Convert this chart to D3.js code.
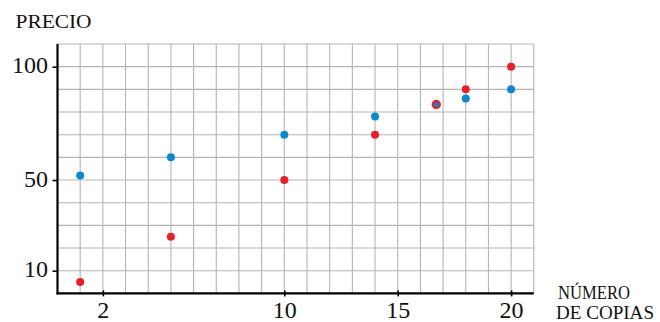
<!DOCTYPE html>
<html>
<head>
<meta charset="utf-8">
<script src="https://cdn.jsdelivr.net/npm/d3@7"></script>
<style>
  body { margin: 0; background: #fff; }
</style>
</head>
<body>
<div id="chart"></div>
<script>
// Data
const copies = [1, 5, 10, 14, 18, 20];
const bluePrice = [52, 60, 70, 78, 86, 90];
const redPrice = [5, 25, 50, 70, 90, 100];
const crossPoint = [16.7, 83.3];
const xTicks = [2, 10, 15, 20];
const yTicks = [10, 50, 100];

const serif = "'Liberation Serif', 'Times New Roman', Times, serif";

// Set up the SVG
const width = 660;
const height = 322;
const margin = { top: 44, left: 57.5 };
const innerW = 476.3;
const innerH = 249.4;

const svg = d3.select("#chart")
    .append("svg")
    .attr("width", width)
    .attr("height", height)
    .style("font-family", serif);

const g = svg.append("g")
    .attr("transform", `translate(${margin.left},${margin.top})`);

// Scales
const x = d3.scaleLinear().domain([0, 21]).range([0, innerW]);
const y = d3.scaleLinear().domain([0, 110]).range([innerH, 0]);

// Grid (one line per copy, one per 10 of price)
g.append("g").selectAll("line")
    .data(d3.range(1, 22))
    .enter().append("line")
    .attr("x1", d => x(d)).attr("x2", d => x(d))
    .attr("y1", 0).attr("y2", innerH)
    .attr("stroke", "#b5b5b5").attr("stroke-width", 1.1);

g.append("g").selectAll("line")
    .data(d3.range(10, 111, 10))
    .enter().append("line")
    .attr("x1", 0).attr("x2", innerW)
    .attr("y1", d => y(d)).attr("y2", d => y(d))
    .attr("stroke", "#b5b5b5").attr("stroke-width", 1.1);

// Axes
const yAxis = g.append("g")
    .call(d3.axisLeft(y).tickValues(yTicks).tickSize(5).tickPadding(4.5))
    .attr("font-family", serif);
yAxis.select(".domain").remove();
yAxis.selectAll(".tick line").attr("stroke", "#000").attr("stroke-width", 1.6);
yAxis.selectAll("text").attr("font-size", 24).attr("dy", "0.25em")
    .style("font-family", serif).attr("fill", "#111");

const xAxis = g.append("g")
    .attr("transform", `translate(0,${innerH})`)
    .call(d3.axisBottom(x).tickValues(xTicks).tickSizeInner(3).tickPadding(5))
    .attr("font-family", serif);
xAxis.select(".domain").remove();
xAxis.selectAll(".tick line").attr("y1", -3).attr("stroke", "#000").attr("stroke-width", 1.6);
xAxis.selectAll("text").attr("font-size", 24)
    .style("font-family", serif).attr("fill", "#111");

// axis lines
g.append("line").attr("x1", 0).attr("x2", 0).attr("y1", 0).attr("y2", innerH + 1)
    .attr("stroke", "#000").attr("stroke-width", 2.2);
g.append("line").attr("x1", -1).attr("x2", innerW).attr("y1", innerH).attr("y2", innerH)
    .attr("stroke", "#000").attr("stroke-width", 2.2);

// Points
g.selectAll(".red")
    .data(copies)
    .enter().append("circle")
    .attr("class", "red")
    .attr("cx", d => x(d))
    .attr("cy", (d, i) => y(redPrice[i]))
    .attr("r", 4)
    .attr("fill", "#e8202a");

g.selectAll(".blue")
    .data(copies)
    .enter().append("circle")
    .attr("class", "blue")
    .attr("cx", d => x(d))
    .attr("cy", (d, i) => y(bluePrice[i]))
    .attr("r", 4)
    .attr("fill", "#0a88d2");

// crossing point
g.append("circle")
    .attr("cx", x(crossPoint[0])).attr("cy", y(crossPoint[1]))
    .attr("r", 3.6)
    .attr("fill", "#0a88d2")
    .attr("stroke", "#e8202a").attr("stroke-width", 2.2);

// Titles
const title = (tx, ty, s, len) => svg.append("text")
    .attr("x", tx).attr("y", ty)
    .attr("font-size", 19.5)
    .attr("textLength", len)
    .attr("lengthAdjust", "spacingAndGlyphs")
    .style("font-family", serif)
    .attr("fill", "#111")
    .text(s);
title(15.5, 27.5, "PRECIO", 76);
title(558, 299, "NÚMERO", 72);
title(556, 319, "DE COPIAS", 98);
</script>
</body>
</html>
